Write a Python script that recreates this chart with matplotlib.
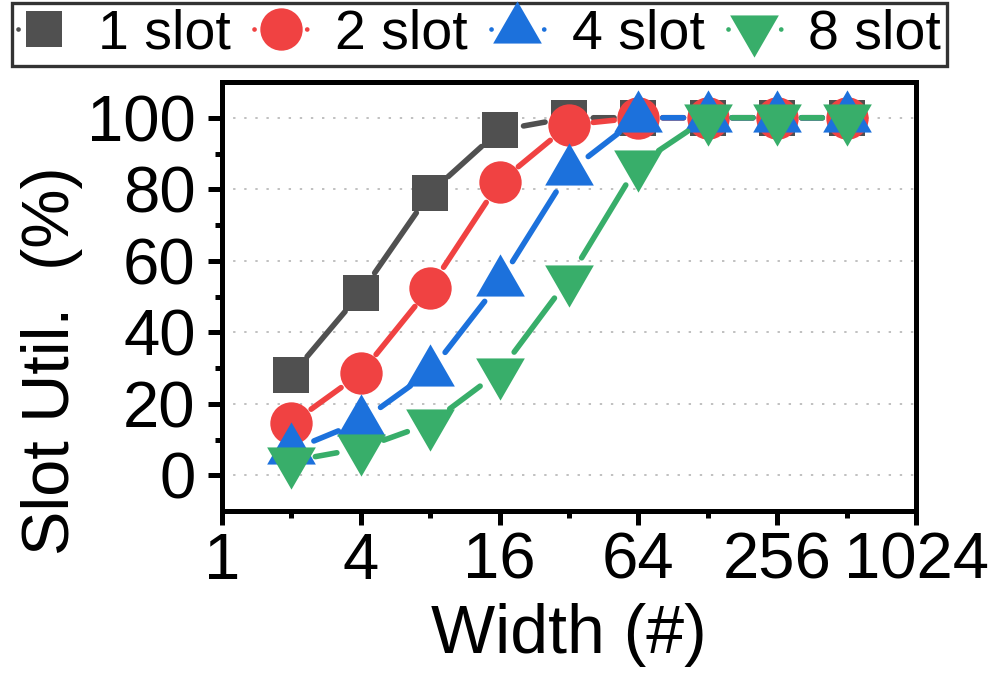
import numpy as np
import matplotlib
matplotlib.use("Agg")
import matplotlib.pyplot as plt
from matplotlib.lines import Line2D
from matplotlib.path import Path

plt.rcParams["font.family"] = ["Liberation Sans", "DejaVu Sans"]
plt.rcParams["lines.scale_dashes"] = False

# data
widths = [2, 4, 8, 16, 32, 64, 128, 256, 512]
series_names = ["1 slot", "2 slot", "4 slot", "8 slot"]
util_1slot = [28, 51, 79, 96.5, 100, 100, 100, 100, 100]
util_2slot = [14.5, 28.5, 52.5, 82, 98, 100, 100, 100, 100]
util_4slot = [7, 15, 29, 54, 85, 100, 100, 100, 100]
util_8slot = [4, 7.5, 14.5, 29, 55, 87, 100, 100, 100]
xticks = [1, 4, 16, 64, 256, 1024]
yticks = [0, 20, 40, 60, 80, 100]

colors = ["#505050", "#F04242", "#1C71DC", "#38AE6A"]

# equilateral triangles centred on their centroid (like the original tool)
h = np.sqrt(3) / 2
tri_up = Path([(0, 2 * h / 3), (-0.5, -h / 3), (0.5, -h / 3), (0, 2 * h / 3)],
              [Path.MOVETO, Path.LINETO, Path.LINETO, Path.CLOSEPOLY])
tri_dn = Path([(0, -2 * h / 3), (-0.5, h / 3), (0.5, h / 3), (0, -2 * h / 3)],
              [Path.MOVETO, Path.LINETO, Path.LINETO, Path.CLOSEPOLY])
markers = ["s", "o", tri_up, tri_dn]
msizes = [26.5, 30.5, 40.5, 40.5]

LW = 3.6
SERIES_LW = 4.0
GAP = 17.5  # gap between line ends and symbol centres, points

fig = plt.figure(figsize=(9.96, 6.84), dpi=100)
ax = fig.add_axes([222 / 996, 1 - 511 / 684, 694 / 996, 429 / 684])

data = [util_1slot, util_2slot, util_4slot, util_8slot]
for i, (ys, c, m, ms) in enumerate(zip(data, colors, markers, msizes)):
    z = 3 + i
    for k in range(len(widths) - 1):
        ax.annotate("", xy=(widths[k + 1], ys[k + 1]), xytext=(widths[k], ys[k]),
                    arrowprops=dict(arrowstyle="-", color=c, lw=SERIES_LW, shrinkA=GAP,
                                    shrinkB=GAP, capstyle="round"),
                    zorder=z, annotation_clip=False)
    ax.plot(widths, ys, ls="none", marker=m, ms=ms, color=c, mew=0, zorder=z + 0.5)

ax.set_xscale("log", base=2)
ax.set_xlim(1, 1024)
ax.set_ylim(-10, 110)
ax.set_xticks(xticks)
ax.set_xticklabels([str(t) for t in xticks])
ax.set_xticks([2, 8, 32, 128, 512], minor=True)
ax.set_xticklabels([], minor=True)
ax.set_yticks(yticks)
ax.set_yticks([10, 30, 50, 70, 90], minor=True)
ax.yaxis.grid(True, which="major", color="#c0c0c0", ls=(0, (1.7, 6.3)), lw=1.4)
ax.set_axisbelow(True)

for sp in ax.spines.values():
    sp.set_linewidth(LW)
ax.tick_params(axis="both", which="major", direction="out", length=10, width=LW,
               labelsize=47)
ax.tick_params(axis="both", which="minor", direction="out", length=5, width=LW)
ax.tick_params(axis="x", which="major", pad=5)
ax.tick_params(axis="y", which="major", pad=9)

ax.set_xlabel("Width (#)", fontsize=49, labelpad=8)
ax.set_ylabel("Slot Util.  (%)", fontsize=48)
ax.yaxis.set_label_coords(-0.20, 0.35)

LEG_FS = 40
HL = 0.95
handles = [Line2D([], [], color=c, lw=3.4, dashes=(0.05, HL * LEG_FS - 0.1),
                  dash_capstyle="round", marker=m, ms=ms, mew=0)
           for c, m, ms in zip(colors, markers, msizes)]
leg = fig.legend(handles, series_names, loc="upper left", ncol=4,
                 bbox_to_anchor=(12 / 996, 1 - 3 / 684), borderaxespad=0,
                 fontsize=LEG_FS, frameon=True, fancybox=False, edgecolor="black",
                 handlelength=HL, handletextpad=0.5, columnspacing=0.42,
                 borderpad=0.1, labelspacing=0.1)
leg.get_frame().set_linewidth(2.4)

fig.savefig("out.png", dpi=100)
